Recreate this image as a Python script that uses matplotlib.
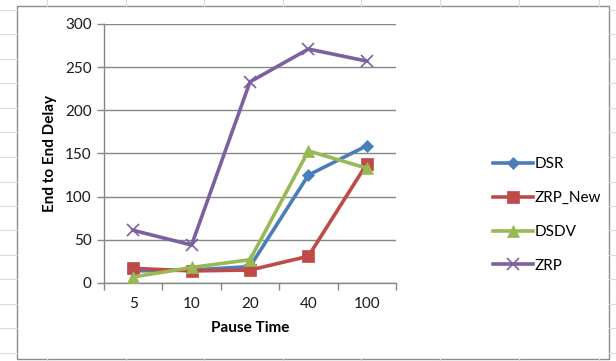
import matplotlib
matplotlib.use("Agg")
import matplotlib.pyplot as plt
from matplotlib.lines import Line2D
from matplotlib.patches import Rectangle

categories = ["5", "10", "20", "40", "100"]
dsr = [14, 15, 19, 125, 159]
zrp_new = [17, 14, 15, 31, 138]
dsdv = [7, 18, 27, 153, 133]
zrp = [61, 44, 233, 271, 257]

series_names = ["DSR", "ZRP_New", "DSDV", "ZRP"]
series_values = [dsr, zrp_new, dsdv, zrp]
colors = ["#4A7EBB", "#BE4B48", "#98B954", "#7D60A0"]
markers = ["D", "s", "^", "x"]
msizes = [6, 8.5, 8, 9]

plt.rcParams['font.family'] = ['Lato', 'DejaVu Sans']

W, H = 616, 361
fig = plt.figure(figsize=(W / 100, H / 100), dpi=100)
fig.patch.set_facecolor("white")

# spreadsheet gridlines peeking out around the chart frame
grid_col = "#D6DCE5"
for yy in [10, 34, 59, 83, 108, 132, 157, 182, 206, 230, 255, 279, 304, 328, 353]:
    fig.add_artist(Line2D([0, 17 / W], [1 - yy / H] * 2, color=grid_col, lw=0.8, transform=fig.transFigure))
    fig.add_artist(Line2D([609 / W, 1], [1 - yy / H] * 2, color=grid_col, lw=0.8, transform=fig.transFigure))
for xx in [47, 126, 204, 283, 361, 440, 519, 599]:
    fig.add_artist(Line2D([xx / W] * 2, [1 - 6 / H, 1], color=grid_col, lw=0.8, transform=fig.transFigure))
    fig.add_artist(Line2D([xx / W] * 2, [0, 1 - 359 / H], color=grid_col, lw=0.8, transform=fig.transFigure))

# chart frame
fig.add_artist(Rectangle((17 / W, 1 - 359 / H), (609 - 17) / W, (359 - 6) / H,
                         transform=fig.transFigure, facecolor="white", edgecolor="#8C8C8C", lw=1.0, zorder=0))

ax = fig.add_axes([104 / W, 1 - 283 / H, (396 - 104) / W, (283 - 24) / H])
ax.set_facecolor("none")
x = list(range(len(categories)))
for name, vals, c, m, ms in zip(series_names, series_values, colors, markers, msizes):
    ax.plot(x, vals, color=c, lw=2.6, marker=m, markersize=ms, markeredgewidth=1.2 if m == "x" else 0.5,
            markeredgecolor=c, label=name, zorder=3)

ax.set_xlim(-0.5, len(categories) - 0.5)
ax.set_ylim(0, 300)
ax.set_yticks(range(0, 301, 50))
ax.set_xticks([i - 0.5 for i in range(len(categories) + 1)], minor=False)
ax.set_xticklabels([])
ax.set_xticks(x, minor=True)
ax.set_xticklabels(categories, minor=True)
ax.tick_params(axis="x", which="major", direction="out", length=5, color="#868686", width=1)
ax.tick_params(axis="x", which="minor", length=0, pad=10, labelsize=11, labelcolor="#1a1a1a")
ax.tick_params(axis="y", direction="out", length=5, color="#868686", width=1, labelsize=11,
               labelcolor="#1a1a1a", pad=4)
ax.grid(axis="y", color="#868686", lw=1)
ax.set_axisbelow(True)
for s in ["top", "right"]:
    ax.spines[s].set_visible(False)
ax.spines["left"].set_color("#868686")
ax.spines["bottom"].set_color("#868686")
ax.spines["left"].set_linewidth(1)
ax.spines["bottom"].set_linewidth(1)

fig.text(250 / W, 1 - 328 / H, "Pause Time", ha="center", va="center", fontsize=11, fontweight="bold")
fig.text(50 / W, 1 - 154 / H, "End to End Delay", ha="center", va="center", rotation=90,
         fontsize=11, fontweight="bold")

leg = ax.legend(loc="center left", bbox_to_anchor=(487 / W, 1 - 215 / H), bbox_transform=fig.transFigure,
                frameon=False, fontsize=11, handlelength=2.6, handletextpad=0.1,
                labelspacing=1.3, borderaxespad=0)

fig.savefig("out.png", dpi=100)
